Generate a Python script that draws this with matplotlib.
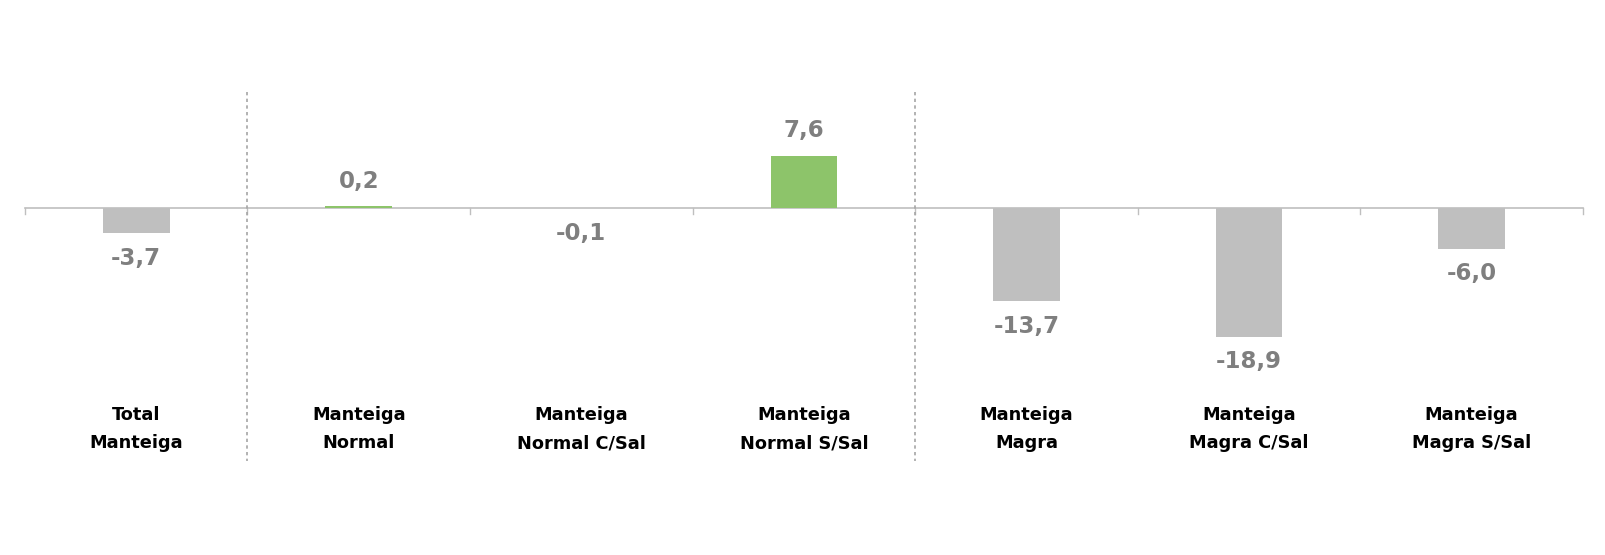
import matplotlib
matplotlib.use("Agg")
import matplotlib.pyplot as plt

categories = ["Total\nManteiga", "Manteiga\nNormal", "Manteiga\nNormal C/Sal",
              "Manteiga\nNormal S/Sal", "Manteiga\nMagra", "Manteiga\nMagra C/Sal",
              "Manteiga\nMagra S/Sal"]
values = [-3.7, 0.2, -0.1, 7.6, -13.7, -18.9, -6.0]
separators = [0.5, 3.5]  # dashed dividers between groups

GREEN = "#8DC46A"
GREY = "#BFBFBF"
LABEL_GREY = "#7F7F7F"

plt.rcParams["font.family"] = ["DejaVu Sans"]

fig = plt.figure(figsize=(16.06, 5.55), dpi=100)
ax = fig.add_axes([0, 0, 1, 1])

x = list(range(len(categories)))
colors = [GREEN if v > 0 else GREY for v in values]
ax.bar(x, values, width=0.30, color=colors, zorder=2)

# baseline with category-boundary ticks
ax.plot([-0.5, len(categories) - 0.5], [0, 0], color=GREY, lw=1.2, zorder=1)
for b in [i - 0.5 for i in range(len(categories) + 1)]:
    ax.plot([b, b], [0, -0.9], color=GREY, lw=1.0, zorder=1)

for s in separators:
    ax.plot([s, s], [16.9, -37.0], color="#A6A6A6", lw=1.2, ls=(0, (2, 2)), zorder=1)

for xi, v in zip(x, values):
    off = 18 if v > 0 else -18
    ax.annotate(f"{v:.1f}".replace(".", ","), (xi, v), xytext=(0, off),
                textcoords="offset points", ha="center", va="center",
                fontsize=16.5, fontweight="bold", color=LABEL_GREY)

for xi, lab in zip(x, categories):
    ax.text(xi, -32.4, lab, ha="center", va="center", fontsize=12.8,
            fontweight="bold", color="black", linespacing=1.7)

ax.set_xlim(-0.612, 6.604)
ax.set_ylim(-50.8, 30.4)
ax.axis("off")

fig.savefig("out.png", dpi=100, facecolor="white")
